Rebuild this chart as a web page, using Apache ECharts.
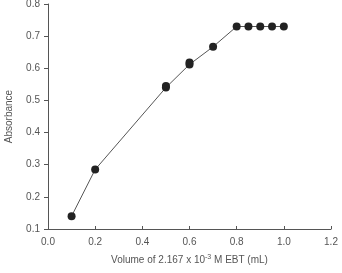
<!DOCTYPE html>
<html>
<head>
<meta charset="utf-8">
<script src="https://cdn.jsdelivr.net/npm/echarts@6/dist/echarts.min.js"></script>
<style>
  html, body { margin: 0; padding: 0; background: #fff; }
  #chart { width: 342px; height: 273px; }
</style>
</head>
<body>
<div id="chart"></div>
<script>
// volume of EBT (mL) vs absorbance
const volume = [0.1, 0.2, 0.5, 0.5, 0.6, 0.6, 0.7, 0.8, 0.85, 0.9, 0.95, 1.0]
const absorbance = [0.14, 0.285, 0.54, 0.545, 0.612, 0.618, 0.667, 0.73, 0.73, 0.73, 0.73, 0.73]

const axisColor = '#555'
const labelStyle = { color: '#555', fontSize: 10, fontFamily: 'Liberation Sans, Arial, sans-serif' }

const chart = echarts.init(document.getElementById('chart'), null, { renderer: 'canvas' })
chart.setOption({
  animation: false,
  grid: { left: 48, right: 11, top: 4, bottom: 44, outerBoundsMode: 'none', containLabel: false },
  xAxis: {
    type: 'value',
    min: 0,
    max: 1.2,
    interval: 0.2,
    name: 'Volume of 2.167 x 10{sup|-3} M EBT (mL)',
    nameLocation: 'middle',
    nameGap: 25,
    nameTextStyle: {
      ...labelStyle,
      rich: { sup: { fontSize: 7, verticalAlign: 'top', padding: [0, 0, 6, 0], color: '#555' } },
    },
    axisLine: { lineStyle: { color: axisColor, width: 1 } },
    axisTick: { inside: true, length: 3, lineStyle: { color: axisColor } },
    axisLabel: { ...labelStyle, margin: 8, formatter: (v) => v.toFixed(1) },
    splitLine: { show: false },
  },
  yAxis: {
    type: 'value',
    min: 0.1,
    max: 0.8,
    interval: 0.1,
    name: 'Absorbance',
    nameLocation: 'middle',
    nameGap: 34,
    nameTextStyle: labelStyle,
    axisLine: { show: true, lineStyle: { color: axisColor, width: 1 } },
    axisTick: { show: true, length: 4, lineStyle: { color: axisColor } },
    axisLabel: { ...labelStyle, margin: 8, formatter: (v) => v.toFixed(1) },
    splitLine: { show: false },
  },
  series: [
    {
      type: 'line',
      data: volume.map((v, i) => [v, absorbance[i]]),
      symbol: 'circle',
      symbolSize: 8,
      itemStyle: { color: '#222' },
      lineStyle: { color: '#555', width: 1 },
    },
  ],
})
</script>
</body>
</html>
